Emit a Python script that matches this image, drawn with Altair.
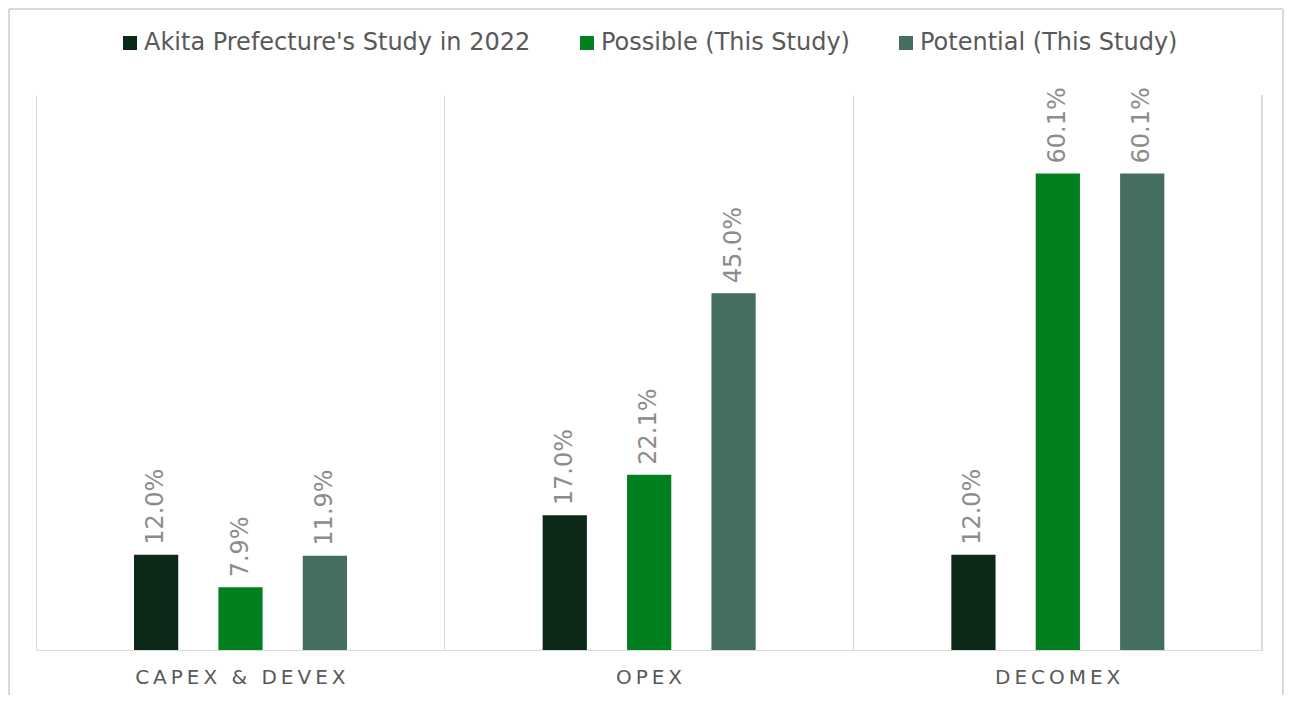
import altair as alt
import pandas as pd

categories = ["CAPEX & DEVEX", "OPEX", "DECOMEX"]
series = ["Akita Prefecture's Study in 2022", "Possible (This Study)", "Potential (This Study)"]
akita = [12.0, 17.0, 12.0]
possible = [7.9, 22.1, 60.1]
potential = [11.9, 45.0, 60.1]
colors = ["#0B2916", "#00801E", "#446E5E"]

rows = []
for i, c in enumerate(categories):
    for s, vals in zip(series, [akita, possible, potential]):
        rows.append({"category": c, "series": s, "value": vals[i]})
df = pd.DataFrame(rows)

W, H = 1226, 555
FONT = "DejaVu Sans"
LINE = "#d9d9d9"

base = alt.Chart(df).transform_calculate(
    label="format(datum.value, '.1f') + '%'"
).encode(
    x=alt.X(
        "category:N",
        sort=categories,
        scale=alt.Scale(paddingInner=0, paddingOuter=0),
        axis=alt.Axis(
            title=None, labelAngle=0, ticks=False, grid=True, gridColor=LINE,
            bandPosition=0, domainColor=LINE, labelFontSize=20, labelColor="#595959",
            labelPadding=17, labelFont=FONT, labelLimit=400,
            labelExpr="join(split(datum.label, ''), '\u2009')",
        ),
    ),
    xOffset=alt.XOffset("series:N", sort=series,
                        scale=alt.Scale(paddingInner=0.476, paddingOuter=0, range=[98, 311])),
    y=alt.Y("value:Q", scale=alt.Scale(domain=[0, 70]), axis=None),
)

bars = base.mark_bar().encode(
    color=alt.Color(
        "series:N", sort=series,
        scale=alt.Scale(domain=series, range=colors),
        legend=alt.Legend(
            title=None, orient="none", direction="horizontal",
            legendX=82, legendY=-64,
            symbolType="square", symbolSize=196, symbolStrokeWidth=0,
            labelFontSize=24, labelFont=FONT, labelColor="#595959",
            labelOffset=2, columnPadding=44, labelLimit=600,
        ),
    )
)

labels = base.mark_text(
    angle=270, align="left", baseline="middle", dx=10,
    fontSize=24, color="#8c8c8c", font=FONT,
).encode(text="label:N")

right_sep = alt.Chart(df).mark_rule(color=LINE, strokeWidth=1).encode(
    x=alt.value(W), y=alt.value(0), y2=alt.value(H)
)
border_top = alt.Chart(df).mark_rule(color=LINE, strokeWidth=1.5).encode(
    x=alt.value(-27), x2=alt.value(W + 21), y=alt.value(-86)
)
border_left = alt.Chart(df).mark_rule(color=LINE, strokeWidth=1.5).encode(
    x=alt.value(-27), y=alt.value(-86), y2=alt.value(H + 80)
)
border_right = alt.Chart(df).mark_rule(color=LINE, strokeWidth=1.5).encode(
    x=alt.value(W + 21), y=alt.value(-86), y2=alt.value(H + 80)
)

chart = alt.layer(bars, labels, right_sep, border_top, border_left, border_right).properties(
    width=W, height=H,
    autosize=alt.AutoSizeParams(type="none"),
    padding={"left": 28, "top": 87, "right": 22, "bottom": 45},
    background="white",
).configure_view(stroke=None)

chart.save("out.html", embed_options={"renderer": "svg", "actions": False})
